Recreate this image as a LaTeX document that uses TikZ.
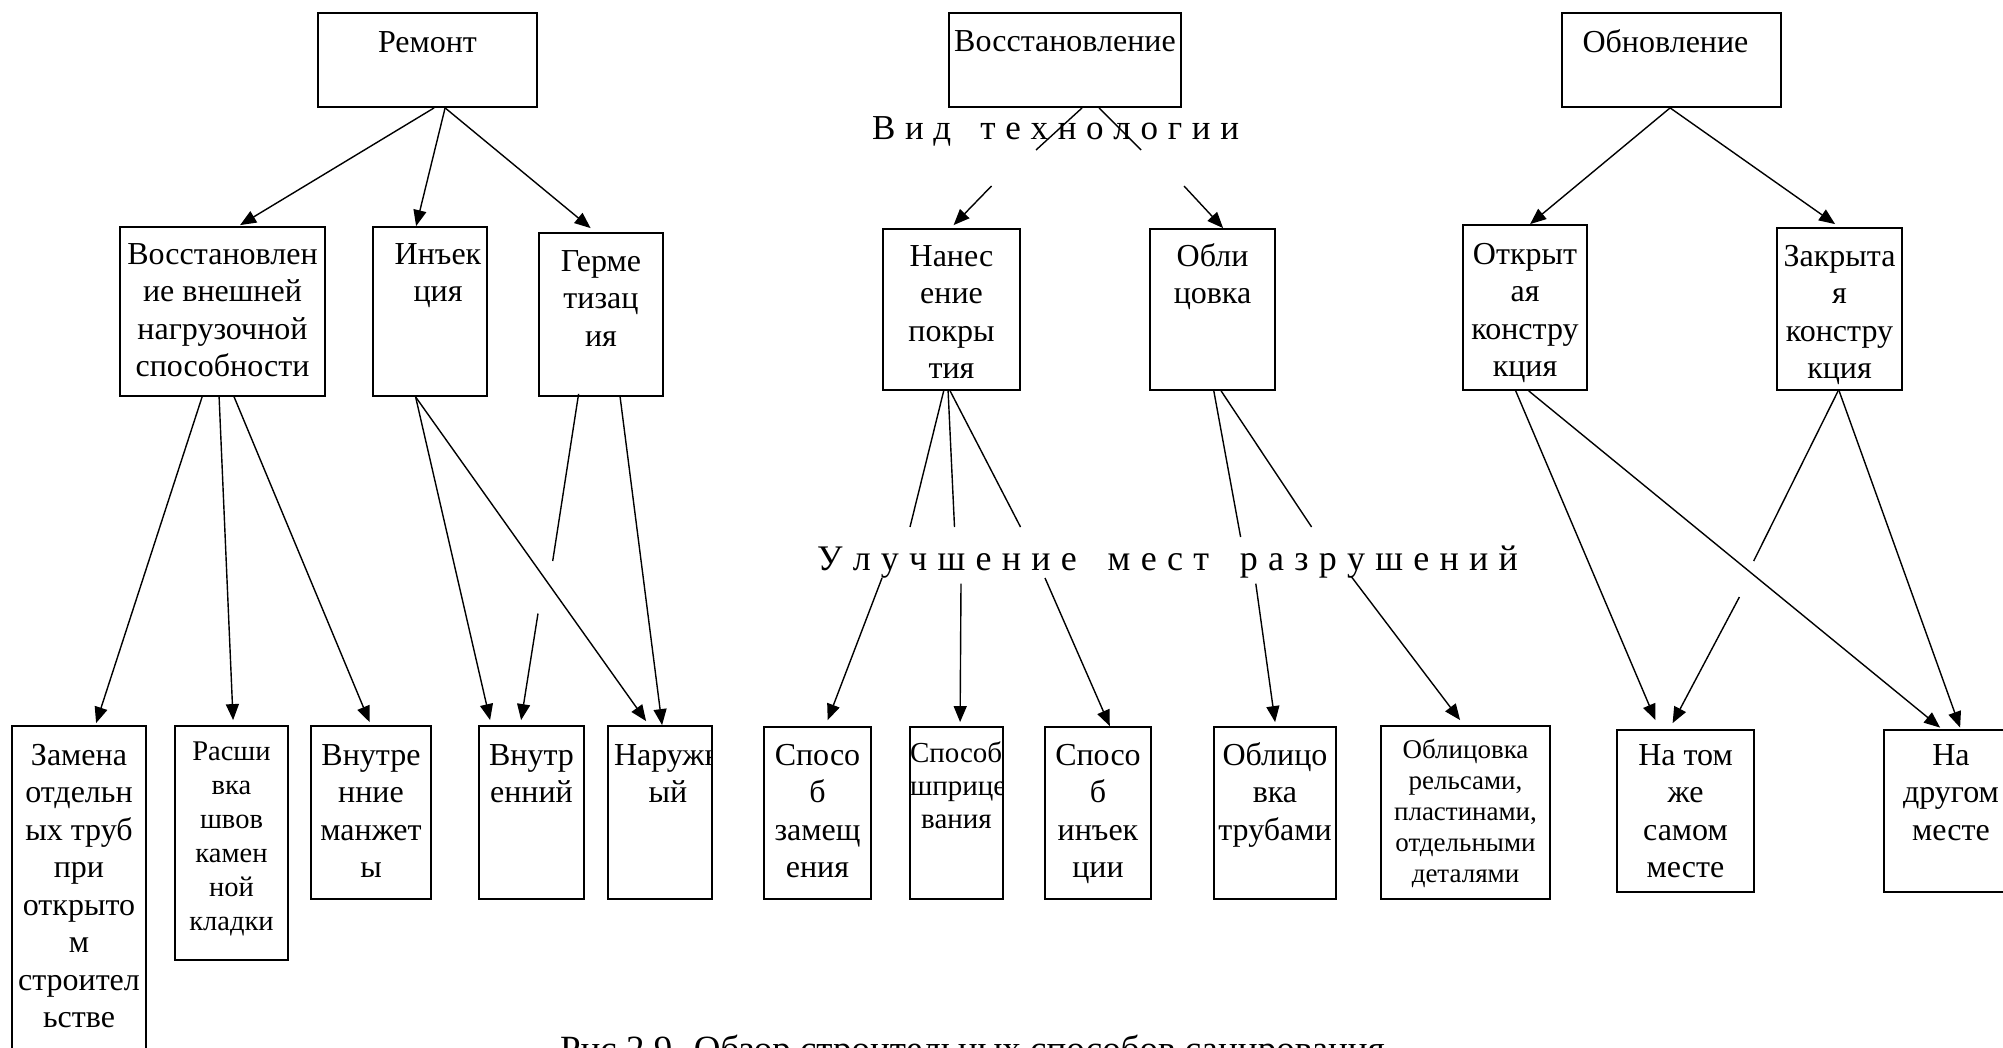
\documentclass[tikz,border=0pt]{standalone}
\usepackage{fontspec}
\setmainfont{Liberation Serif}
\usetikzlibrary{arrows.meta,fit,calc}
\newcommand\F[2]{\fontsize{#1pt}{#2pt}\selectfont}
\tikzset{
 box/.style={draw, line width=1.8pt, inner sep=0pt},
 con/.style={line width=1.4pt},
 arr/.style={con, -{Triangle[length=16pt,width=13pt]}},
 lbl/.style={inner sep=0pt, outer sep=0pt, anchor=base, font=\F{32}{37.5}},
}
% name, x1, y1, x2, y2, (dx,baseline offset from top), text
\newcommand\bx[7]{%
 \node[box, fit={(#2,#3) (#4,#5)}] (#1) {};
 \node[lbl] (#1-t) at ($(#1.north)+#6$) {\parbox[t]{600pt}{\centering #7}};}
% same, with the text clipped to the box
\newcommand\bxc[7]{%
 \node[box, fit={(#2,#3) (#4,#5)}] (#1) {};
 \begin{scope}\clip (#2,#3) rectangle (#4,#5);
 \node[lbl] (#1-t) at ($(#1.north)+#6$) {\parbox[t]{600pt}{\centering #7}};
 \end{scope}}
\begin{document}
\begin{tikzpicture}[x=1pt,y=-1pt]
\useasboundingbox (0,0) rectangle (2003,1048);
% top row
\bx{remont}{318}{13}{537}{107}{(0,40)}{Ремонт}
\bx{vosst}{949}{13}{1181}{107}{(0,39)}{Восстановление}
\bx{obnov}{1562}{13}{1781}{107}{(-6,40)}{Обновление}
% second row
\bx{vvn}{120}{227}{325}{396}{(0,38)}{Восстановлен\\ие внешней\\нагрузочной\\способности}
\bx{inj}{373}{227}{487}{396}{(8,38)}{Инъек\\ция}
\bx{germ}{539}{233}{663}{396}{(0,39)}{Герме\\тизац\\ия}
\bx{nanes}{883}{229}{1020}{390}{(0,38)}{Нанес\\ение\\покры\\тия}
\bx{oblic}{1150}{229}{1275}{390}{(0,38)}{Обли\\цовка}
\bx{otkr}{1463}{225}{1587}{390}{(0,40)}{Открыт\\ая\\констру\\кция}
\bx{zakr}{1777}{228}{1902}{390}{(0,39)}{Закрыта\\я\\констру\\кция}
% bottom row
\bx{zamena}{12}{726}{146}{1075}{(0,40)}{Замена\\отдельн\\ых труб\\при\\открыто\\м\\строител\\ьстве}
\bx{rassh}{175}{726}{288}{960}{(0,35)}{\F{28.5}{34}Расши\\вка\\швов\\камен\\ной\\кладки}
\bx{vman}{311}{726}{431}{899}{(0,40)}{Внутре\\нние\\манжет\\ы}
\bx{vnutr}{479}{726}{584}{899}{(0,40)}{Внутр\\енний}
\bxc{naruzh}{608}{726}{712}{899}{(8,40)}{\makebox[108pt][l]{Наружн}\\ый}
\bx{szam}{764}{727}{871}{899}{(0,39)}{Спосо\\б\\замещ\\ения}
\bxc{sshpr}{910}{727}{1003}{899}{(0,36)}{\F{29}{33}\makebox[93pt][l]{Способ}\\\makebox[93pt][l]{шприце}\\вания}
\bx{sinj}{1045}{727}{1151}{899}{(0,39)}{Спосо\\б\\инъек\\ции}
\bx{otrub}{1214}{727}{1336}{899}{(0,39)}{Облицо\\вка\\трубами}
\bx{orels}{1381}{726}{1550}{899}{(0,33)}{\F{27}{31}Облицовка\\рельсами,\\пластинами,\\отдельными\\деталями}
\bx{natom}{1617}{730}{1754}{892}{(0,36)}{На том\\же\\самом\\месте}
\bx{nadrug}{1884}{730}{2018}{892}{(0,36)}{На\\другом\\месте}
% spaced texts
\node[lbl, anchor=base west, font=\F{35}{40}] (vid) at (872,140) {\hbox to 367pt{В\hfill и\hfill д\hspace{0pt plus 3fill}т\hfill е\hfill х\hfill н\hfill о\hfill л\hfill о\hfill г\hfill и\hfill и}};
\node[lbl, anchor=base west, font=\F{36}{40}] (ulu) at (817,570) {\hbox to 701pt{У\hfill л\hfill у\hfill ч\hfill ш\hfill е\hfill н\hfill и\hfill е\hspace{0pt plus 3fill}м\hfill е\hfill с\hfill т\hspace{0pt plus 3fill}р\hfill а\hfill з\hfill р\hfill у\hfill ш\hfill е\hfill н\hfill и\hfill й}};
\node[lbl, anchor=base west, font=\F{37}{40}] (cap) at (560,1061) {Рис 2.9. Обзор строительных способов санирования};
% free ends
\coordinate (vt1) at (1036,150);
\coordinate (vt2) at (1141,150);
\coordinate (vt3) at (991.5,186);
\coordinate (vt4) at (1184,186);
\coordinate (u1) at (910,527);
\coordinate (u2) at (954.5,527);
\coordinate (u3) at (1020.5,527);
\coordinate (u4) at (1240.6,537);
\coordinate (u5) at (1311.6,527);
\coordinate (u6) at (882,578);
\coordinate (u7) at (961,583.7);
\coordinate (u8) at (1045,578);
\coordinate (u9) at (1255.8,583.7);
\coordinate (u10) at (1351.6,577);
\coordinate (g1) at (552.7,561);
\coordinate (g2) at (538,613.5);
\coordinate (z1) at (1753.7,561);
\coordinate (z2) at (1739.4,597);
% connectors
\draw[arr] ($(remont.south west)+(117,0)$) -- ($(vvn.north west)+(121,-1)$);
\draw[arr] ($(remont.south west)+(128,0)$) -- ($(inj.north west)+(44,0)$);
\draw[arr] ($(remont.south west)+(128,0)$) -- ($(germ.north west)+(52.5,-4)$);
\draw[con] ($(vosst.south west)+(134,0)$) -- (vt1);
\draw[con] ($(vosst.south west)+(151,0)$) -- (vt2);
\draw[arr] (vt3) -- ($(nanes.north west)+(71.5,-3)$);
\draw[arr] (vt4) -- ($(oblic.north west)+(74,0)$);
\draw[arr] ($(obnov.south west)+(109,0)$) -- ($(otkr.north west)+(68,0)$);
\draw[arr] ($(obnov.south west)+(109,0)$) -- ($(zakr.north west)+(59,-3)$);
\draw[arr] ($(vvn.south west)+(83,0)$) -- ($(zamena.north west)+(85,-2)$);
\draw[arr] ($(vvn.south west)+(100,0)$) -- ($(rassh.north west)+(59,-5)$);
\draw[arr] ($(vvn.south west)+(115,0)$) -- ($(vman.north west)+(59.5,-3)$);
\draw[arr] ($(inj.south west)+(43.5,0)$) -- ($(vnutr.north west)+(12,-5)$);
\draw[arr] ($(inj.south west)+(43.5,0)$) -- ($(naruzh.north west)+(39,-4)$);
\draw[con] ($(germ.south west)+(40.5,-3)$) -- (g1);
\draw[arr] (g2) -- ($(vnutr.north west)+(43,-5)$);
\draw[arr] ($(germ.south west)+(82,0)$) -- ($(naruzh.north west)+(55,0)$);
\draw[con] ($(nanes.south west)+(61.6,0)$) -- (u1);
\draw[con] ($(nanes.south west)+(66,0)$) -- (u2);
\draw[con] ($(nanes.south west)+(68,0)$) -- (u3);
\draw[con] ($(oblic.south west)+(64.7,0)$) -- (u4);
\draw[con] ($(oblic.south west)+(72,0)$) -- (u5);
\draw[arr] (u6) -- ($(szam.north west)+(64.6,-6)$);
\draw[arr] (u7) -- ($(sshpr.north west)+(51,-4)$);
\draw[arr] (u8) -- ($(sinj.north west)+(65.7,0)$);
\draw[arr] (u9) -- ($(otrub.north west)+(62,-4)$);
\draw[arr] (u10) -- ($(orels.north west)+(80,-5)$);
\draw[arr] ($(otkr.south west)+(53.6,0)$) -- ($(natom.north west)+(39.4,-9)$);
\draw[arr] ($(otkr.south west)+(66.6,0)$) -- ($(nadrug.north west)+(57,-1.5)$);
\draw[con] ($(zakr.south west)+(62,0)$) -- (z1);
\draw[arr] (z2) -- ($(natom.north west)+(56.5,-6)$);
\draw[arr] ($(zakr.south west)+(63,0)$) -- ($(nadrug.north west)+(77,-1.5)$);
\end{tikzpicture}
\end{document}
